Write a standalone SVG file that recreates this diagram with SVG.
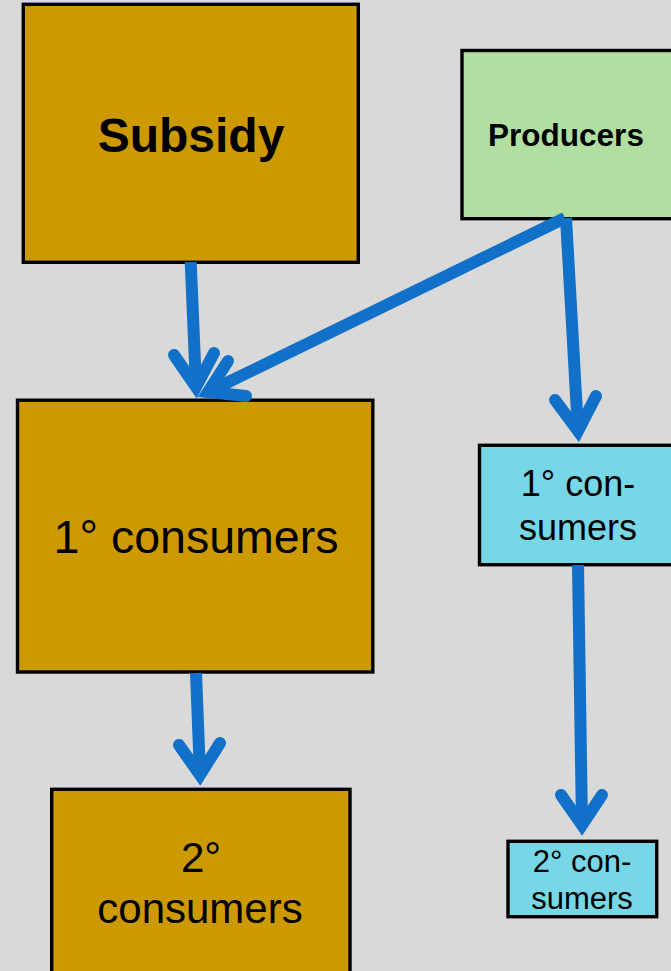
<svg xmlns="http://www.w3.org/2000/svg" width="671" height="971" viewBox="0 0 671 971">
<style>
.box{stroke:#000;stroke-width:3.4;stroke-linejoin:miter}
.brown{fill:#CC9900}
.green{fill:#B1DFA2}
.cyan{fill:#77D7E6}
text{font-family:"Liberation Sans",Arial,sans-serif;fill:#000;text-anchor:middle}
.b{font-weight:bold}
.shaft{fill:none;stroke:#1170C8;stroke-width:12;stroke-linecap:butt}
.head{fill:none;stroke:#1170C8;stroke-width:12;stroke-linecap:round;stroke-linejoin:miter;stroke-miterlimit:4}
</style>
<rect width="671" height="971" fill="#D9D9D9"/>
<g id="subsidy">
<rect class="box brown" x="23.3" y="4.3" width="335" height="258"/>
<text class="b" x="191" y="152" font-size="48">Subsidy</text>
</g>
<g id="producers">
<rect class="box green" x="462" y="50.5" width="215" height="168.2"/>
<text class="b" x="566" y="146" font-size="31.5">Producers</text>
</g>
<g id="consumers1-left">
<rect class="box brown" x="17.5" y="400.2" width="355.3" height="271.8"/>
<text x="196" y="553" font-size="46.5">1° consumers</text>
</g>
<g id="consumers1-right">
<rect class="box cyan" x="479.5" y="445.3" width="200" height="119.4"/>
<text x="578" y="496" font-size="36">1° con-</text>
<text x="578" y="540" font-size="36">sumers</text>
</g>
<g id="consumers2-left">
<rect class="box brown" x="51.7" y="789.3" width="298.3" height="200"/>
<text x="201" y="872" font-size="42">2°</text>
<text x="200" y="923" font-size="42">consumers</text>
</g>
<g id="consumers2-right">
<rect class="box cyan" x="508" y="841.3" width="148.7" height="75.4"/>
<text x="582" y="872" font-size="31">2° con-</text>
<text x="582" y="909" font-size="31">sumers</text>
</g>
<g id="connectors">
<line class="shaft" x1="190.7" y1="262" x2="196" y2="387"/>
<polyline class="head" points="174,355 196,387 214,353"/>
<line class="shaft" x1="565" y1="218" x2="208" y2="392"/>
<polyline class="head" points="228,361 208,392 246,396"/>
<line class="shaft" x1="566" y1="218" x2="578" y2="431"/>
<polyline class="head" points="555,400 578,431 596,396"/>
<line class="shaft" x1="578" y1="565" x2="582" y2="825"/>
<polyline class="head" points="561,795 582,825 602,795"/>
<line class="shaft" x1="196" y1="673" x2="200" y2="775"/>
<polyline class="head" points="179,745 200,775 220,743"/>
</g>
</svg>
